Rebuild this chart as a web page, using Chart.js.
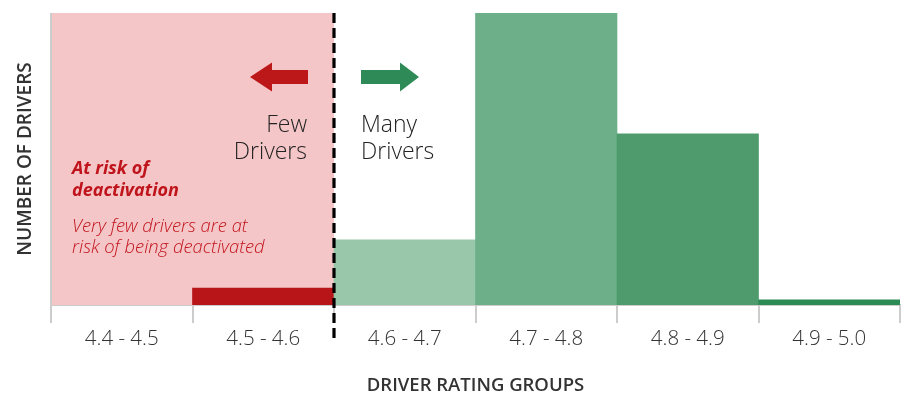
<!DOCTYPE html>
<html>
<head>
<meta charset="utf-8">
<script src="https://cdn.jsdelivr.net/npm/chart.js@4"></script>
<style>
  html, body { margin: 0; padding: 0; background: #fff; }
  #wrap { width: 912px; height: 403px; position: relative; }
</style>
</head>
<body>
<div id="wrap"><canvas id="c" width="912" height="403"></canvas></div>
<script>
const categories = ['4.4 - 4.5', '4.5 - 4.6', '4.6 - 4.7', '4.7 - 4.8', '4.8 - 4.9', '4.9 - 5.0'];
const driverCounts = [null, 5.8, 22.3, 100, 58.6, 1.8];
const barColors = ['#B71518', '#B71518', '#99C7AA', '#6CAF89', '#4F9B6E', '#2C8A55'];
const xTitle = 'DRIVER RATING GROUPS';
const yTitle = 'NUMBER OF DRIVERS';
const fewLabel = ['Few', 'Drivers'];
const manyLabel = ['Many', 'Drivers'];
const riskTitle = ['At risk of', 'deactivation'];
const riskNote = ['Very few drivers are at', 'risk of being deactivated'];

const annot = {
  id: 'annot',
  beforeDatasetsDraw(chart) {
    const {ctx, chartArea: a, scales: {x}} = chart;
    const split = (x.getPixelForValue(1) + x.getPixelForValue(2)) / 2;
    ctx.save();
    ctx.fillStyle = '#F5C6C7';
    ctx.fillRect(a.left, a.top, split - a.left, a.bottom - a.top);
    ctx.restore();
  },
  afterDraw(chart) {
    const {ctx, chartArea: a, scales: {x}} = chart;
    const split = (x.getPixelForValue(1) + x.getPixelForValue(2)) / 2;
    ctx.save();
    ctx.strokeStyle = '#CCCCCC';
    ctx.lineWidth = 2;
    ctx.beginPath();
    ctx.moveTo(a.left, a.top);
    ctx.lineTo(a.left, a.bottom);
    ctx.stroke();
    ctx.strokeStyle = '#000';
    ctx.lineWidth = 3.2;
    ctx.setLineDash([10, 5]);
    ctx.beginPath();
    ctx.moveTo(split, a.top);
    ctx.lineTo(split, 341);
    ctx.stroke();
    ctx.setLineDash([]);
    const cy = 77;
    ctx.fillStyle = '#BC1719';
    ctx.beginPath();
    ctx.moveTo(split - 84, cy);
    ctx.lineTo(split - 62, cy - 14.5);
    ctx.lineTo(split - 62, cy - 7);
    ctx.lineTo(split - 26, cy - 7);
    ctx.lineTo(split - 26, cy + 7);
    ctx.lineTo(split - 62, cy + 7);
    ctx.lineTo(split - 62, cy + 14.5);
    ctx.closePath();
    ctx.fill();
    ctx.fillStyle = '#2E8B57';
    ctx.beginPath();
    ctx.moveTo(split + 85, cy);
    ctx.lineTo(split + 66, cy - 14.5);
    ctx.lineTo(split + 66, cy - 7);
    ctx.lineTo(split + 27, cy - 7);
    ctx.lineTo(split + 27, cy + 7);
    ctx.lineTo(split + 66, cy + 7);
    ctx.lineTo(split + 66, cy + 14.5);
    ctx.closePath();
    ctx.fill();
    ctx.fillStyle = '#222';
    ctx.font = '300 23px "Open Sans"';
    ctx.textBaseline = 'alphabetic';
    ctx.textAlign = 'right';
    ctx.fillText(fewLabel[0], split - 27, 132);
    ctx.fillText(fewLabel[1], split - 27, 159);
    ctx.textAlign = 'left';
    ctx.fillText(manyLabel[0], split + 27, 132);
    ctx.fillText(manyLabel[1], split + 27, 159);
    ctx.fillStyle = '#C0141C';
    ctx.font = 'italic 700 18px "Open Sans"';
    ctx.fillText(riskTitle[0], 72, 174);
    ctx.fillText(riskTitle[1], 72, 196);
    ctx.font = 'italic 300 18.4px "Open Sans"';
    ctx.fillText(riskNote[0], 72, 232);
    ctx.fillText(riskNote[1], 72, 253);
    ctx.fillStyle = '#333';
    ctx.font = '600 19px "Open Sans"';
    ctx.translate(26, (a.top + a.bottom) / 2);
    ctx.rotate(-Math.PI / 2);
    ctx.textAlign = 'center';
    ctx.textBaseline = 'middle';
    ctx.fillText(yTitle, 0, 0);
    ctx.restore();
  }
};

function build() {
  new Chart(document.getElementById('c'), {
    type: 'bar',
    data: {
      labels: categories,
      datasets: [{
        data: driverCounts,
        backgroundColor: barColors,
        borderWidth: 0,
        categoryPercentage: 1,
        barPercentage: 1
      }]
    },
    options: {
      responsive: false,
      animation: false,
      devicePixelRatio: 1,
      layout: { padding: { left: 51, right: 12, top: 13, bottom: 0 } },
      plugins: { legend: { display: false }, tooltip: { enabled: false } },
      scales: {
        y: { display: false, min: 0, max: 100 },
        x: {
          offset: true,
          afterFit(s) { s.height = 98; },
          border: { display: true, color: '#CCCCCC', width: 2 },
          grid: {
            offset: true,
            drawOnChartArea: false,
            drawTicks: true,
            tickLength: 18,
            lineWidth: 2,
            color: (c) => (c.index === categories.length ? 'rgba(0,0,0,0)' : '#CCCCCC')
          },
          ticks: {
            color: '#333',
            padding: 4,
            font: { family: 'Open Sans', size: 20.5, weight: '300' }
          },
          title: {
            display: true,
            text: xTitle,
            color: '#333',
            font: { family: 'Open Sans', size: 18.5, weight: '600' },
            padding: { top: 0, bottom: 6 }
          }
        }
      }
    },
    plugins: [annot]
  });
}

Promise.all([
  document.fonts.load('300 23px "Open Sans"'),
  document.fonts.load('300 19px "Open Sans"'),
  document.fonts.load('600 15px "Open Sans"'),
  document.fonts.load('italic 700 18px "Open Sans"'),
  document.fonts.load('italic 300 18px "Open Sans"')
]).catch(() => {}).then(build);
</script>
</body>
</html>
